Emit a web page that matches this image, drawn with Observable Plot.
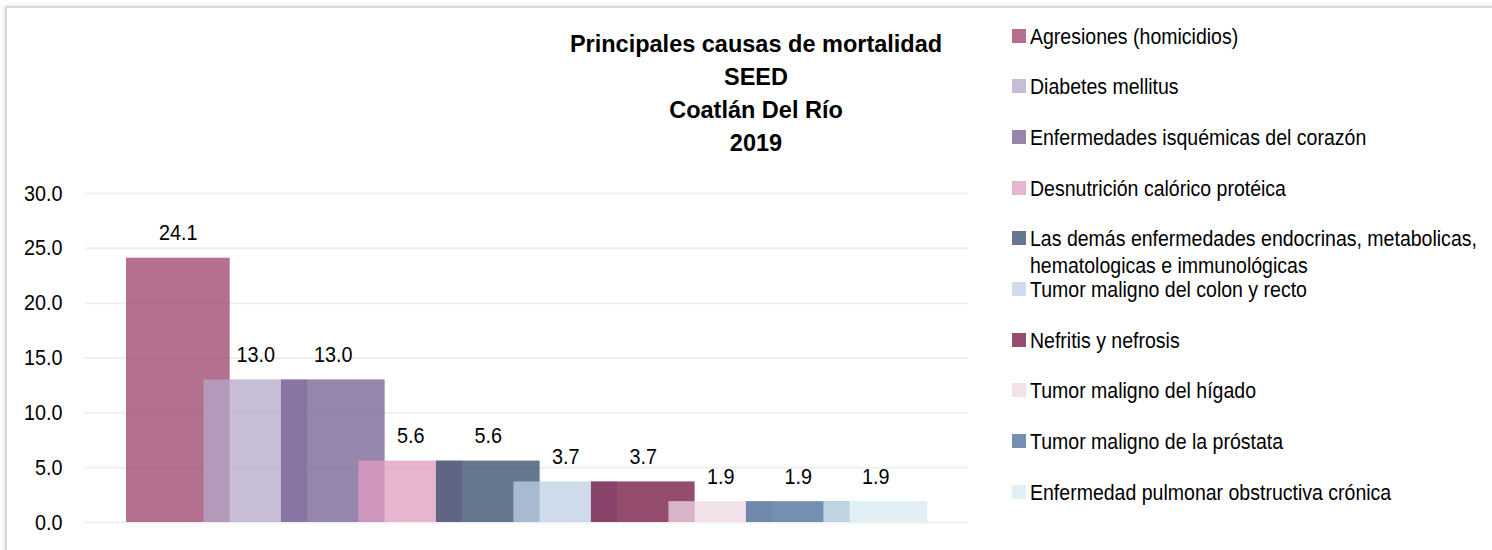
<!DOCTYPE html>
<html>
<head>
<meta charset="utf-8">
<script src="https://cdn.jsdelivr.net/npm/d3@7"></script>
<script src="https://cdn.jsdelivr.net/npm/@observablehq/plot@0.6"></script>
<style>
  html, body { margin: 0; padding: 0; background: #fff; }
  body { width: 1492px; height: 550px; position: relative; overflow: hidden;
         font-family: "Liberation Sans", Arial, sans-serif; }
  #frame { position: absolute; left: 5px; top: 6px; width: 1600px; height: 700px;
           border-top: 2px solid #d9d9d9; border-left: 2px solid #d9d9d9;
           box-shadow: -2px -1px 3px rgba(0,0,0,0.08); }
  #chart { position: absolute; left: 0; top: 0; }
  #title { position: absolute; left: 506px; width: 500px; top: 28px; text-align: center;
           font-weight: bold; font-size: 23.5px; line-height: 33px; color: #000; }
  .leg { position: absolute; left: 1012px; display: flex; align-items: flex-start;
         font-size: 22px; line-height: 27px; color: #000; }
  .sw { width: 14px; height: 14px; flex: none; margin-top: 6px; margin-right: 4px; }
  .lt { width: 525px; transform: scaleX(0.887); transform-origin: 0 0; }
</style>
</head>
<body>
<div id="frame"></div>
<div id="chart"></div>
<div id="title">Principales causas de mortalidad<br>SEED<br>Coatlán Del Río<br>2019</div>
<div id="legend"></div>
<script>
const categories = [
  "Agresiones (homicidios)",
  "Diabetes mellitus",
  "Enfermedades isquémicas del corazón",
  "Desnutrición calórico protéica",
  "Las demás enfermedades endocrinas, metabolicas, hematologicas e immunológicas",
  "Tumor maligno del colon y recto",
  "Nefritis y nefrosis",
  "Tumor maligno del hígado",
  "Tumor maligno de la próstata",
  "Enfermedad pulmonar obstructiva crónica"
];
const values = [24.1, 13.0, 13.0, 5.6, 5.6, 3.7, 3.7, 1.9, 1.9, 1.9];
const yTicks = [0, 5, 10, 15, 20, 25, 30];
const colors = ["#9C406A", "#B6A7C8", "#745E8F", "#E09CC0", "#334B6A",
                "#BED0E4", "#70103F", "#EFD7E3", "#446A97", "#D7EBF2"];

const data = categories.map((cause, i) => ({cause, i, value: values[i]}));
const halfWidth = 0.669;

const chart = Plot.plot({
  width: 990,
  height: 550,
  marginLeft: 85,
  marginRight: 22,
  marginTop: 193,
  marginBottom: 28,
  style: {fontFamily: '"Liberation Sans", Arial, sans-serif', fontSize: "22px", color: "#000",
          background: "transparent", overflow: "visible"},
  x: {domain: [-1.198, 10.197], axis: null},
  y: {domain: [0, 30], ticks: yTicks, tickFormat: d => d.toFixed(1), tickSize: 0, tickPadding: 23, label: null},
  color: {domain: categories, range: colors},
  marks: [
    Plot.ruleY(yTicks, {stroke: "#efefef", strokeWidth: 2}),
    Plot.rectY(data, {x1: d => d.i - halfWidth, x2: d => d.i + halfWidth, y1: 0, y2: "value",
                      fill: "cause", fillOpacity: 0.75}),
    Plot.text(data, {x: "i", y: "value", text: d => d.value.toFixed(1), dy: -25,
                     fontSize: 22, fill: "#000"})
  ]
});

// condense the numeric text horizontally (narrow face is not available)
chart.querySelectorAll("text").forEach(el => {
  const s = 0.9;
  const t = el.getAttribute("transform");
  if (t && /translate/.test(t)) {
    el.setAttribute("transform", t + ` scale(${s},1)`);
  } else {
    const x = +(el.getAttribute("x") || 0), y = +(el.getAttribute("y") || 0);
    el.setAttribute("x", 0); el.setAttribute("y", 0);
    el.setAttribute("transform", `translate(${x},${y}) scale(${s},1)` + (t ? " " + t : ""));
  }
});
document.getElementById("chart").appendChild(chart);

const legend = document.getElementById("legend");
categories.forEach((c, i) => {
  const row = document.createElement("div");
  row.className = "leg";
  row.style.top = (36 + 50.7 * i - 13.5) + "px";
  const sw = document.createElement("div");
  sw.className = "sw";
  sw.style.background = colors[i];
  sw.style.opacity = 0.75;
  const t = document.createElement("div");
  t.className = "lt";
  t.textContent = c;
  row.appendChild(sw);
  row.appendChild(t);
  legend.appendChild(row);
});
</script>
</body>
</html>
